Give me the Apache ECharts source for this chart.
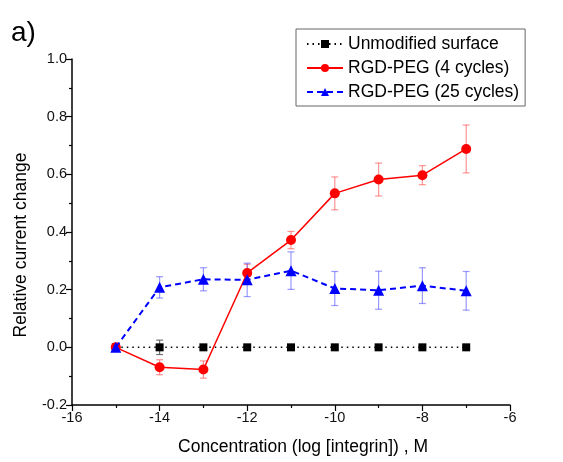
<!DOCTYPE html>
<html><head><meta charset="utf-8">
<script src="https://cdn.jsdelivr.net/npm/echarts@6/dist/echarts.min.js"></script>
<style>html,body{margin:0;padding:0;background:#fff}#c{width:563px;height:462px}</style>
</head><body><div id="c"></div>
<script>
const xs = [-15, -14, -13, -12, -11, -10, -9, -8, -7];
const unmodVals = [0, 0, 0, 0, 0, 0, 0, 0, 0];
const unmodErr = [0, 0.025, 0.005, 0, 0, 0, 0, 0, 0];
const rgd4Vals = [0, -0.069, -0.077, 0.258, 0.372, 0.534, 0.582, 0.597, 0.688];
const rgd4Err = [0, 0.026, 0.03, 0.03, 0.03, 0.057, 0.057, 0.033, 0.083];
const rgd25Vals = [0, 0.208, 0.236, 0.234, 0.266, 0.204, 0.198, 0.214, 0.196];
const rgd25Err = [0, 0.037, 0.04, 0.058, 0.065, 0.059, 0.066, 0.062, 0.067];
const names = ['Unmodified surface', 'RGD-PEG (4 cycles)', 'RGD-PEG (25 cycles)'];
const xTitle = 'Concentration (log [integrin]) , M';
const yTitle = 'Relative current change';

const chart = echarts.init(document.getElementById('c'));
const FONT = '"Liberation Sans", Arial, sans-serif';

function errSeries(vals, errs, color) {
  const data = xs.map((x, i) => [x, vals[i], errs[i]]).filter(d => d[2] > 0);
  return {
    type: 'custom', silent: true, z: 1,
    renderItem: function (params, api) {
      const x = api.value(0), y = api.value(1), e = api.value(2);
      const top = api.coord([x, y + e]);
      const bot = api.coord([x, y - e]);
      const hw = 3.5;
      const style = { stroke: color, lineWidth: 1.2, fill: null };
      return { type: 'group', children: [
        { type: 'line', shape: { x1: top[0], y1: top[1], x2: bot[0], y2: bot[1] }, style: style },
        { type: 'line', shape: { x1: top[0] - hw, y1: top[1], x2: top[0] + hw, y2: top[1] }, style: style },
        { type: 'line', shape: { x1: bot[0] - hw, y1: bot[1], x2: bot[0] + hw, y2: bot[1] }, style: style }
      ]};
    },
    data: data
  };
}

const option = {
  animation: false,
  backgroundColor: '#fff',
  graphic: [
    { type: 'text', left: 11, top: 19, style: { text: 'a)', font: '28px ' + FONT, fill: '#000' } },
    { type: 'text', x: 303, y: 447, style: { text: xTitle, font: '17.5px ' + FONT, fill: '#000', align: 'center', verticalAlign: 'middle' } },
    { type: 'text', x: 21, y: 245, rotation: Math.PI / 2, style: { text: yTitle, font: '17.5px ' + FONT, fill: '#000', align: 'center', verticalAlign: 'middle' } }
  ],
  grid: { left: 72, right: 53, top: 59, bottom: 57 },
  legend: {
    orient: 'vertical', left: 296, top: 29,
    data: names,
    itemWidth: 36, itemHeight: 10, itemGap: 6,
    padding: [6, 6, 5, 10],
    borderColor: '#666', borderWidth: 1,
    textStyle: { fontSize: 17.5, fontFamily: FONT, color: '#000' }
  },
  xAxis: {
    type: 'value', min: -16, max: -6, interval: 2,
    axisLine: { onZero: false, lineStyle: { color: '#000', width: 1.5 } },
    axisTick: { length: 6, lineStyle: { color: '#000', width: 1.2 } },
    minorTick: { show: true, splitNumber: 2, length: 3, lineStyle: { color: '#000', width: 1.2 } },
    splitLine: { show: false },
    axisLabel: { fontSize: 14.5, fontFamily: FONT, color: '#111', margin: 5 }
  },
  yAxis: {
    type: 'value', min: -0.2, max: 1.0, interval: 0.2,
    axisLine: { show: true, onZero: false, lineStyle: { color: '#000', width: 1.5 } },
    axisTick: { show: true, length: 6, lineStyle: { color: '#000', width: 1.2 } },
    minorTick: { show: true, splitNumber: 2, length: 3, lineStyle: { color: '#000', width: 1.2 } },
    splitLine: { show: false },
    axisLabel: { fontSize: 14.5, fontFamily: FONT, color: '#111', margin: 5, formatter: v => v.toFixed(1) }
  },
  series: [
    errSeries(unmodVals, unmodErr, 'rgba(60,60,60,0.7)'),
    errSeries(rgd4Vals, rgd4Err, 'rgba(255,60,60,0.55)'),
    errSeries(rgd25Vals, rgd25Err, 'rgba(70,70,255,0.55)'),
    {
      name: names[0], type: 'line', z: 2,
      data: xs.map((x, i) => [x, unmodVals[i]]),
      symbol: 'rect', symbolSize: 8,
      lineStyle: { color: '#000', width: 1.5, type: [1.5, 4] },
      itemStyle: { color: '#000' }
    },
    {
      name: names[1], type: 'line', z: 3,
      data: xs.map((x, i) => [x, rgd4Vals[i]]),
      symbol: 'circle', symbolSize: 10,
      lineStyle: { color: '#ff0000', width: 1.5 },
      itemStyle: { color: '#ff0000' }
    },
    {
      name: names[2], type: 'line', z: 4,
      data: xs.map((x, i) => [x, rgd25Vals[i]]),
      symbol: 'triangle', symbolSize: 11,
      lineStyle: { color: '#0000ff', width: 2, type: [6, 4] },
      itemStyle: { color: '#0000ff' }
    }
  ]
};
chart.setOption(option);
</script></body></html>
